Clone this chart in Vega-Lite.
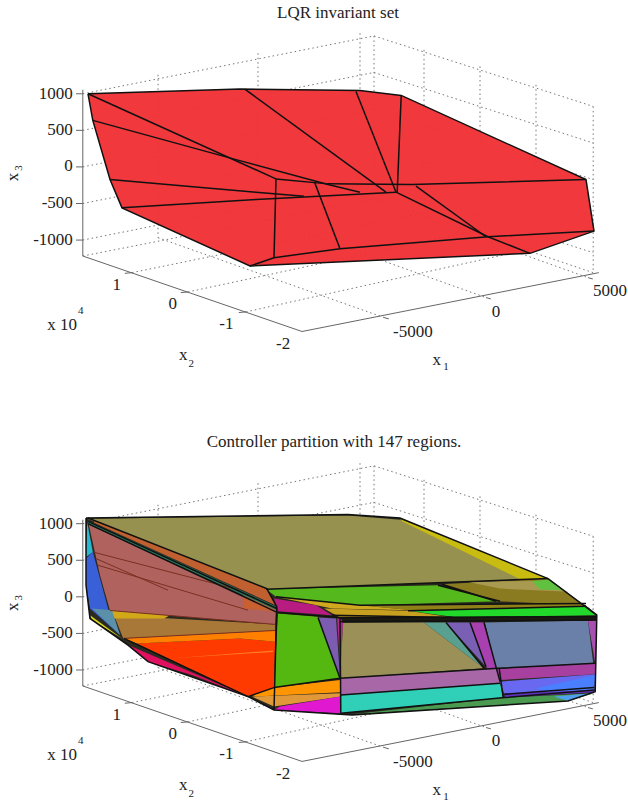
{"$schema":"https://vega.github.io/schema/vega-lite/v6.json","width":628,"height":803,"autosize":{"type":"fit","contains":"padding"},"padding":0,"background":"white",
"datasets":{
"grid":[
{"s":"a1","u":207,"v":282},{"s":"a1","u":935,"v":108},{"s":"a1","u":1483,"v":320},
{"s":"a2","u":207,"v":392},{"s":"a2","u":935,"v":218},{"s":"a2","u":1483,"v":430},
{"s":"a3","u":207,"v":502},{"s":"a3","u":935,"v":328},{"s":"a3","u":1483,"v":540},
{"s":"a4","u":207,"v":612},{"s":"a4","u":935,"v":438},{"s":"a4","u":1483,"v":650},
{"s":"a5","u":207,"v":722},{"s":"a5","u":935,"v":548},{"s":"a5","u":1483,"v":760},
{"s":"a6","u":395,"v":225},{"s":"a6","u":395,"v":715},
{"s":"a7","u":645,"v":160},{"s":"a7","u":645,"v":650},
{"s":"a8","u":900,"v":100},{"s":"a8","u":900,"v":590},
{"s":"a9","u":935,"v":108},{"s":"a9","u":935,"v":598},
{"s":"a10","u":1060,"v":150},{"s":"a10","u":1060,"v":640},
{"s":"a11","u":1200,"v":200},{"s":"a11","u":1200,"v":690},
{"s":"a12","u":1340,"v":255},{"s":"a12","u":1340,"v":745},
{"s":"a13","u":1483,"v":320},{"s":"a13","u":1483,"v":820},
{"s":"a14","u":330,"v":820},{"s":"a14","u":1060,"v":640},
{"s":"a15","u":470,"v":878},{"s":"a15","u":1200,"v":690},
{"s":"a16","u":615,"v":938},{"s":"a16","u":1340,"v":745},
{"s":"a17","u":395,"v":715},{"s":"a17","u":960,"v":955},
{"s":"a18","u":645,"v":650},{"s":"a18","u":1215,"v":895},
{"s":"a19","u":900,"v":590},{"s":"a19","u":1470,"v":835},
{"s":"a20","u":207,"v":770},{"s":"a20","u":935,"v":598},{"s":"a20","u":1483,"v":820},
{"s":"b1","u":207,"v":1575},{"s":"b1","u":935,"v":1401},{"s":"b1","u":1483,"v":1613},
{"s":"b2","u":207,"v":1685},{"s":"b2","u":935,"v":1511},{"s":"b2","u":1483,"v":1723},
{"s":"b3","u":207,"v":1795},{"s":"b3","u":935,"v":1621},{"s":"b3","u":1483,"v":1833},
{"s":"b4","u":207,"v":1905},{"s":"b4","u":935,"v":1731},{"s":"b4","u":1483,"v":1943},
{"s":"b5","u":207,"v":2015},{"s":"b5","u":935,"v":1841},{"s":"b5","u":1483,"v":2053},
{"s":"b6","u":395,"v":1518},{"s":"b6","u":395,"v":2008},
{"s":"b7","u":645,"v":1453},{"s":"b7","u":645,"v":1943},
{"s":"b8","u":900,"v":1393},{"s":"b8","u":900,"v":1883},
{"s":"b9","u":935,"v":1401},{"s":"b9","u":935,"v":1891},
{"s":"b10","u":1060,"v":1443},{"s":"b10","u":1060,"v":1933},
{"s":"b11","u":1200,"v":1493},{"s":"b11","u":1200,"v":1983},
{"s":"b12","u":1340,"v":1548},{"s":"b12","u":1340,"v":2038},
{"s":"b13","u":1483,"v":1613},{"s":"b13","u":1483,"v":2113},
{"s":"b14","u":330,"v":2113},{"s":"b14","u":1060,"v":1933},
{"s":"b15","u":470,"v":2171},{"s":"b15","u":1200,"v":1983},
{"s":"b16","u":615,"v":2231},{"s":"b16","u":1340,"v":2038},
{"s":"b17","u":395,"v":2008},{"s":"b17","u":960,"v":2248},
{"s":"b18","u":645,"v":1943},{"s":"b18","u":1215,"v":2188},
{"s":"b19","u":900,"v":1883},{"s":"b19","u":1470,"v":2128},
{"s":"b20","u":207,"v":2063},{"s":"b20","u":935,"v":1891},{"s":"b20","u":1483,"v":2113}
],
"axes":[
{"s":"a","u":207,"v":270},{"s":"a","u":207,"v":770},{"s":"a","u":755,"v":997},{"s":"a","u":1497,"v":820},
{"s":"t1","u":190,"v":282},{"s":"t1","u":207,"v":282},{"s":"t2","u":190,"v":392},{"s":"t2","u":207,"v":392},
{"s":"t3","u":190,"v":502},{"s":"t3","u":207,"v":502},{"s":"t4","u":190,"v":612},{"s":"t4","u":207,"v":612},
{"s":"t5","u":190,"v":722},{"s":"t5","u":207,"v":722},
{"s":"t6","u":312,"v":822},{"s":"t6","u":330,"v":820},{"s":"t7","u":452,"v":880},{"s":"t7","u":470,"v":878},
{"s":"t8","u":597,"v":940},{"s":"t8","u":615,"v":938},
{"s":"t9","u":960,"v":955},{"s":"t9","u":972,"v":959},{"s":"t10","u":1215,"v":895},{"s":"t10","u":1227,"v":899},
{"s":"t11","u":1470,"v":835},{"s":"t11","u":1482,"v":839},
{"s":"b","u":207,"v":1563},{"s":"b","u":207,"v":2063},{"s":"b","u":755,"v":2290},{"s":"b","u":1497,"v":2113},
{"s":"c1","u":190,"v":1575},{"s":"c1","u":207,"v":1575},{"s":"c2","u":190,"v":1685},{"s":"c2","u":207,"v":1685},
{"s":"c3","u":190,"v":1795},{"s":"c3","u":207,"v":1795},{"s":"c4","u":190,"v":1905},{"s":"c4","u":207,"v":1905},
{"s":"c5","u":190,"v":2015},{"s":"c5","u":207,"v":2015},
{"s":"c6","u":312,"v":2115},{"s":"c6","u":330,"v":2113},{"s":"c7","u":452,"v":2173},{"s":"c7","u":470,"v":2171},
{"s":"c8","u":597,"v":2233},{"s":"c8","u":615,"v":2231},
{"s":"c9","u":960,"v":2248},{"s":"c9","u":972,"v":2252},{"s":"c10","u":1215,"v":2188},{"s":"c10","u":1227,"v":2192},
{"s":"c11","u":1470,"v":2128},{"s":"c11","u":1482,"v":2132}
],
"invariant":[
{"r":"lqr","u":220,"v":282},{"r":"lqr","u":600,"v":268},{"r":"lqr","u":900,"v":272},{"r":"lqr","u":1003,"v":287},{"r":"lqr","u":1465,"v":540},{"r":"lqr","u":1485,"v":695},{"r":"lqr","u":1325,"v":762},{"r":"lqr","u":625,"v":800},{"r":"lqr","u":305,"v":625},{"r":"lqr","u":275,"v":540},{"r":"lqr","u":232,"v":362}
],
"regions":[
{"r":"base","u":215,"v":1558},{"r":"base","u":870,"v":1547},{"r":"base","u":1000,"v":1558},{"r":"base","u":1370,"v":1740},{"r":"base","u":1492,"v":1850},{"r":"base","u":1488,"v":2080},{"r":"base","u":1420,"v":2108},{"r":"base","u":880,"v":2150},{"r":"base","u":850,"v":2148},{"r":"base","u":685,"v":2135},{"r":"base","u":620,"v":2095},{"r":"base","u":370,"v":1990},{"r":"base","u":320,"v":1940},{"r":"base","u":225,"v":1860},{"r":"base","u":215,"v":1760},
{"r":"top","u":218,"v":1560},{"r":"top","u":870,"v":1550},{"r":"top","u":1000,"v":1563},{"r":"top","u":1370,"v":1740},{"r":"top","u":670,"v":1772},
{"r":"yel","u":1000,"v":1560},{"r":"yel","u":1370,"v":1740},{"r":"yel","u":1300,"v":1742},{"r":"yel","u":1005,"v":1568},
{"r":"grn","u":665,"v":1772},{"r":"grn","u":1095,"v":1760},{"r":"grn","u":1250,"v":1808},{"r":"grn","u":900,"v":1820},{"r":"grn","u":690,"v":1795},
{"r":"olv2","u":1105,"v":1757},{"r":"olv2","u":1370,"v":1740},{"r":"olv2","u":1460,"v":1820},{"r":"olv2","u":1240,"v":1808},
{"r":"lite","u":1170,"v":1750},{"r":"lite","u":1340,"v":1747},{"r":"lite","u":1420,"v":1780},{"r":"lite","u":1250,"v":1770},
{"r":"grn2","u":1330,"v":1747},{"r":"grn2","u":1375,"v":1743},{"r":"grn2","u":1410,"v":1775},{"r":"grn2","u":1350,"v":1773},
{"r":"olv3","u":900,"v":1820},{"r":"olv3","u":1455,"v":1815},{"r":"olv3","u":1465,"v":1825},{"r":"olv3","u":1030,"v":1835},
{"r":"brt","u":1020,"v":1837},{"r":"brt","u":1465,"v":1823},{"r":"brt","u":1492,"v":1850},{"r":"brt","u":1140,"v":1856},
{"r":"wedge","u":690,"v":1795},{"r":"wedge","u":900,"v":1820},{"r":"wedge","u":1030,"v":1835},{"r":"wedge","u":830,"v":1830},{"r":"wedge","u":750,"v":1810},
{"r":"mag","u":685,"v":1800},{"r":"mag","u":790,"v":1820},{"r":"mag","u":830,"v":1850},{"r":"mag","u":695,"v":1838},
{"r":"yor","u":810,"v":1830},{"r":"yor","u":1020,"v":1837},{"r":"yor","u":1130,"v":1857},{"r":"yor","u":850,"v":1857},
{"r":"fgreen","u":695,"v":1845},{"r":"fgreen","u":795,"v":1855},{"r":"fgreen","u":850,"v":2040},{"r":"fgreen","u":685,"v":2068},
{"r":"fpb","u":795,"v":1857},{"r":"fpb","u":840,"v":1860},{"r":"fpb","u":850,"v":2040},
{"r":"fmag","u":843,"v":1860},{"r":"fmag","u":858,"v":1860},{"r":"fmag","u":852,"v":2040},
{"r":"folv","u":858,"v":1872},{"r":"folv","u":1060,"v":1872},{"r":"folv","u":1210,"v":2010},{"r":"folv","u":850,"v":2040},
{"r":"ftea","u":1060,"v":1872},{"r":"ftea","u":1115,"v":1872},{"r":"ftea","u":1210,"v":2010},
{"r":"fpb2","u":1115,"v":1872},{"r":"fpb2","u":1175,"v":1872},{"r":"fpb2","u":1215,"v":2005},
{"r":"fmag2","u":1175,"v":1872},{"r":"fmag2","u":1210,"v":1872},{"r":"fmag2","u":1248,"v":2045},{"r":"fmag2","u":1215,"v":2005},
{"r":"fbg","u":1212,"v":1872},{"r":"fbg","u":1470,"v":1867},{"r":"fbg","u":1483,"v":1995},{"r":"fbg","u":1240,"v":2010},
{"r":"fstrip","u":1470,"v":1867},{"r":"fstrip","u":1492,"v":1860},{"r":"fstrip","u":1488,"v":1995},
{"r":"band","u":850,"v":2040},{"r":"band","u":1245,"v":2010},{"r":"band","u":1250,"v":2055},{"r":"band","u":852,"v":2090},
{"r":"bandr","u":1240,"v":2012},{"r":"bandr","u":1488,"v":1995},{"r":"bandr","u":1488,"v":2028},{"r":"bandr","u":1250,"v":2045},
{"r":"blue","u":1250,"v":2050},{"r":"blue","u":1488,"v":2028},{"r":"blue","u":1485,"v":2080},{"r":"blue","u":1260,"v":2085},
{"r":"blue2","u":1340,"v":2070},{"r":"blue2","u":1488,"v":2030},{"r":"blue2","u":1485,"v":2080},{"r":"blue2","u":1380,"v":2085},
{"r":"teal","u":852,"v":2090},{"r":"teal","u":1250,"v":2055},{"r":"teal","u":1258,"v":2098},{"r":"teal","u":852,"v":2145},
{"r":"pstrip","u":1262,"v":2085},{"r":"pstrip","u":1485,"v":2075},{"r":"pstrip","u":1485,"v":2082},{"r":"pstrip","u":1262,"v":2098},
{"r":"dgreen","u":880,"v":2148},{"r":"dgreen","u":1262,"v":2098},{"r":"dgreen","u":1485,"v":2085},{"r":"dgreen","u":1420,"v":2108},
{"r":"lblue","u":1385,"v":2095},{"r":"lblue","u":1480,"v":2085},{"r":"lblue","u":1420,"v":2108},
{"r":"orange","u":630,"v":2092},{"r":"orange","u":685,"v":2068},{"r":"orange","u":850,"v":2045},{"r":"orange","u":850,"v":2082},{"r":"orange","u":640,"v":2095},
{"r":"lor","u":630,"v":2095},{"r":"lor","u":850,"v":2085},{"r":"lor","u":852,"v":2095},{"r":"lor","u":685,"v":2125},
{"r":"magb","u":700,"v":2125},{"r":"magb","u":850,"v":2095},{"r":"magb","u":852,"v":2145},{"r":"magb","u":685,"v":2135},
{"r":"red","u":342,"v":1935},{"r":"red","u":600,"v":1920},{"r":"red","u":688,"v":1930},{"r":"red","u":685,"v":2068},{"r":"red","u":620,"v":2095},
{"r":"orng","u":308,"v":1920},{"r":"orng","u":688,"v":1896},{"r":"orng","u":688,"v":1930},{"r":"orng","u":600,"v":1920},{"r":"orng","u":342,"v":1935},
{"r":"stripe","u":432,"v":1980},{"r":"stripe","u":683,"v":1956},{"r":"stripe","u":683,"v":1961},
{"r":"brown","u":285,"v":1850},{"r":"brown","u":688,"v":1878},{"r":"brown","u":688,"v":1896},{"r":"brown","u":308,"v":1920},
{"r":"yell","u":275,"v":1836},{"r":"yell","u":425,"v":1850},{"r":"yell","u":410,"v":1860},{"r":"yell","u":285,"v":1860},
{"r":"salmon","u":222,"v":1578},{"r":"salmon","u":690,"v":1838},{"r":"salmon","u":688,"v":1878},{"r":"salmon","u":275,"v":1836},{"r":"salmon","u":250,"v":1730},
{"r":"orb","u":608,"v":1785},{"r":"orb","u":690,"v":1830},{"r":"orb","u":690,"v":1840},{"r":"orb","u":608,"v":1830},
{"r":"orb2","u":235,"v":1565},{"r":"orb2","u":667,"v":1772},{"r":"orb2","u":692,"v":1822},{"r":"orb2","u":235,"v":1572},
{"r":"tstrip","u":220,"v":1566},{"r":"tstrip","u":692,"v":1825},{"r":"tstrip","u":692,"v":1836},{"r":"tstrip","u":220,"v":1575},
{"r":"blueL","u":215,"v":1680},{"r":"blueL","u":232,"v":1660},{"r":"blueL","u":270,"v":1830},{"r":"blueL","u":300,"v":1910},{"r":"blueL","u":225,"v":1830},{"r":"blueL","u":215,"v":1760},
{"r":"cyan","u":218,"v":1570},{"r":"cyan","u":232,"v":1660},{"r":"cyan","u":215,"v":1675},
{"r":"gb","u":230,"v":1830},{"r":"gb","u":280,"v":1835},{"r":"gb","u":300,"v":1910},
{"r":"yl","u":225,"v":1850},{"r":"yl","u":305,"v":1920},{"r":"yl","u":230,"v":1865},
{"r":"crim","u":320,"v":1940},{"r":"crim","u":620,"v":2095},{"r":"crim","u":480,"v":2030},{"r":"crim","u":370,"v":1990},
{"r":"dark","u":850,"v":1856},{"r":"dark","u":1140,"v":1856},{"r":"dark","u":1490,"v":1852},{"r":"dark","u":1490,"v":1866},{"r":"dark","u":858,"v":1872}
],
"edges":[
{"s":"o","u":220,"v":282},{"s":"o","u":600,"v":268},{"s":"o","u":900,"v":272},{"s":"o","u":1003,"v":287},{"s":"o","u":1465,"v":540},{"s":"o","u":1485,"v":695},{"s":"o","u":1325,"v":762},{"s":"o","u":625,"v":800},{"s":"o","u":305,"v":625},{"s":"o","u":275,"v":540},{"s":"o","u":232,"v":362},{"s":"o","u":220,"v":282},
{"s":"e1","u":220,"v":282},{"s":"e1","u":690,"v":538},
{"s":"e2","u":232,"v":362},{"s":"e2","u":590,"v":480},{"s":"e2","u":820,"v":555},{"s":"e2","u":900,"v":578},
{"s":"e3","u":612,"v":268},{"s":"e3","u":965,"v":578},
{"s":"e4","u":890,"v":275},{"s":"e4","u":990,"v":578},
{"s":"e5","u":1003,"v":287},{"s":"e5","u":993,"v":578},
{"s":"e6","u":275,"v":540},{"s":"e6","u":640,"v":578},{"s":"e6","u":760,"v":590},
{"s":"e7","u":305,"v":625},{"s":"e7","u":640,"v":600},{"s":"e7","u":990,"v":578},
{"s":"e8","u":990,"v":578},{"s":"e8","u":1220,"v":712},{"s":"e8","u":1325,"v":762},
{"s":"e9","u":1040,"v":560},{"s":"e9","u":1215,"v":712},
{"s":"e10","u":690,"v":538},{"s":"e10","u":820,"v":553},{"s":"e10","u":1030,"v":555},{"s":"e10","u":1465,"v":540},
{"s":"e11","u":690,"v":538},{"s":"e11","u":685,"v":775},
{"s":"e12","u":787,"v":550},{"s":"e12","u":850,"v":748},
{"s":"e13","u":625,"v":800},{"s":"e13","u":685,"v":775},{"s":"e13","u":850,"v":748},{"s":"e13","u":1220,"v":712},{"s":"e13","u":1485,"v":695},
{"s":"l0","u":215,"v":1558},{"s":"l0","u":870,"v":1547},{"s":"l0","u":1000,"v":1558},{"s":"l0","u":1370,"v":1740},{"s":"l0","u":1492,"v":1850},{"s":"l0","u":1488,"v":2080},{"s":"l0","u":1420,"v":2108},{"s":"l0","u":880,"v":2150},{"s":"l0","u":850,"v":2148},{"s":"l0","u":685,"v":2135},{"s":"l0","u":620,"v":2095},{"s":"l0","u":370,"v":1990},{"s":"l0","u":320,"v":1940},{"s":"l0","u":225,"v":1860},{"s":"l0","u":215,"v":1760},{"s":"l0","u":215,"v":1558},
{"s":"l1","u":220,"v":1558},{"s":"l1","u":667,"v":1770},{"s":"l1","u":692,"v":1825},
{"s":"l2","u":220,"v":1568},{"s":"l2","u":692,"v":1830},
{"s":"l26","u":220,"v":1575},{"s":"l26","u":690,"v":1840},
{"s":"l3","u":665,"v":1772},{"s":"l3","u":1370,"v":1740},
{"s":"l4","u":690,"v":1795},{"s":"l4","u":900,"v":1820},{"s":"l4","u":1465,"v":1815},
{"s":"l5","u":850,"v":1857},{"s":"l5","u":1490,"v":1855},
{"s":"l6","u":850,"v":1870},{"s":"l6","u":1490,"v":1865},
{"s":"l7","u":695,"v":1842},{"s":"l7","u":850,"v":1857},
{"s":"l8","u":692,"v":1825},{"s":"l8","u":685,"v":2135},
{"s":"l9","u":850,"v":1857},{"s":"l9","u":852,"v":2145},
{"s":"l10","u":795,"v":1857},{"s":"l10","u":850,"v":2040},
{"s":"l11","u":685,"v":2068},{"s":"l11","u":850,"v":2040},{"s":"l11","u":1245,"v":2010},{"s":"l11","u":1488,"v":1995},
{"s":"l12","u":620,"v":2095},{"s":"l12","u":685,"v":2068},
{"s":"l13","u":852,"v":2090},{"s":"l13","u":1250,"v":2055},
{"s":"l14","u":852,"v":2145},{"s":"l14","u":1262,"v":2098},{"s":"l14","u":1485,"v":2075},
{"s":"l15","u":1248,"v":2010},{"s":"l15","u":1258,"v":2098},
{"s":"l16","u":1210,"v":1872},{"s":"l16","u":1250,"v":2050},
{"s":"l17","u":1175,"v":1872},{"s":"l17","u":1215,"v":2005},
{"s":"l18","u":1115,"v":1872},{"s":"l18","u":1210,"v":2010},
{"s":"l19","u":1460,"v":1820},{"s":"l19","u":1492,"v":1850},
{"s":"l20","u":1095,"v":1760},{"s":"l20","u":1250,"v":1808},
{"s":"l21","u":1020,"v":1837},{"s":"l21","u":1465,"v":1823},
{"s":"l22","u":1105,"v":1757},{"s":"l22","u":1240,"v":1808},
{"s":"l23","u":310,"v":1920},{"s":"l23","u":620,"v":2095},
{"s":"l24","u":830,"v":1850},{"s":"l24","u":1130,"v":1857},
{"s":"l25","u":1262,"v":2088},{"s":"l25","u":1485,"v":2068}
],
"faint":[
{"s":"f1","u":232,"v":1660},{"s":"f1","u":600,"v":1775},
{"s":"f2","u":245,"v":1700},{"s":"f2","u":620,"v":1835},
{"s":"f3","u":275,"v":1836},{"s":"f3","u":690,"v":1878},
{"s":"f4","u":308,"v":1920},{"s":"f4","u":690,"v":1896},
{"s":"f5","u":240,"v":1680},{"s":"f5","u":420,"v":1775}
],
"labels":[
{"t":"LQR invariant set","u":845,"v":38},{"t":"Controller partition with 147 regions.","u":835,"v":1330},
{"t":"1","u":292,"v":858},{"t":"0","u":432,"v":915},{"t":"-1","u":566,"v":975},{"t":"-2","u":708,"v":1035},
{"t":"-5000","u":1032,"v":998},{"t":"0","u":1240,"v":937},{"t":"5000","u":1525,"v":875},{"t":"x 10","u":155,"v":978},{"t":"x","u":1092,"v":1082},{"t":"x","u":458,"v":1068},
{"t":"1","u":292,"v":2151},{"t":"0","u":432,"v":2208},{"t":"-1","u":566,"v":2268},{"t":"-2","u":708,"v":2328},
{"t":"-5000","u":1032,"v":2291},{"t":"0","u":1240,"v":2230},{"t":"5000","u":1525,"v":2168},{"t":"x 10","u":155,"v":2271},{"t":"x","u":1092,"v":2375},{"t":"x","u":458,"v":2361}
],
"zlabels":[
{"t":"1000","u":182,"v":282},{"t":"500","u":182,"v":390},{"t":"0","u":182,"v":500},{"t":"-500","u":182,"v":610},{"t":"-1000","u":182,"v":722},
{"t":"1000","u":182,"v":1575},{"t":"500","u":182,"v":1685},{"t":"0","u":182,"v":1795},{"t":"-500","u":182,"v":1905},{"t":"-1000","u":182,"v":2015}
],
"subs":[
{"t":"4","u":202,"v":935},{"t":"1","u":1115,"v":1105},{"t":"2","u":478,"v":1095},
{"t":"4","u":202,"v":2228},{"t":"1","u":1115,"v":2398},{"t":"2","u":478,"v":2388}
],
"rotMain":[{"t":"x","u":32,"v":532},{"t":"x","u":32,"v":1825}],
"rotSub":[{"t":"3","u":48,"v":505},{"t":"3","u":48,"v":1798}]
},
"encoding":{
"x":{"field":"u","type":"quantitative","scale":{"domain":[0,1570],"nice":false,"zero":false},"axis":null},
"y":{"field":"v","type":"quantitative","scale":{"domain":[2409,0],"nice":false,"zero":false},"axis":null}
},
"layer":[
{"data":{"name":"grid"},"transform":[{"window":[{"op":"row_number","as":"i"}]}],"mark":{"type":"line","stroke":"#777777","strokeWidth":1,"strokeDash":[1.5,3]},"encoding":{"detail":{"field":"s"},"order":{"field":"i","type":"quantitative"}}},
{"data":{"name":"axes"},"transform":[{"window":[{"op":"row_number","as":"i"}]}],"mark":{"type":"line","stroke":"#666666","strokeWidth":1},"encoding":{"detail":{"field":"s"},"order":{"field":"i","type":"quantitative"}}},
{"data":{"name":"invariant"},"transform":[{"window":[{"op":"row_number","as":"i"}]}],"mark":{"type":"line","fill":"#f03034","fillOpacity":0.96,"stroke":null},"encoding":{"detail":{"field":"r"},"order":{"field":"i","type":"quantitative"}}},
{"data":{"name":"regions"},"transform":[{"window":[{"op":"row_number","as":"i"}]}],"mark":{"type":"line","strokeWidth":0},"encoding":{"fill":{"field":"r","type":"nominal","legend":null,"sort":null,"scale":{
"domain":["base","top","yel","grn","olv2","lite","grn2","olv3","brt","wedge","mag","yor","fgreen","fpb","fmag","folv","ftea","fpb2","fmag2","fbg","fstrip","band","bandr","blue","blue2","teal","pstrip","dgreen","lblue","orange","lor","magb","red","orng","stripe","brown","yell","salmon","orb","orb2","tstrip","blueL","cyan","gb","yl","crim","dark"],
"range":["#2a2a20","#97914f","#c8bc10","#55b81c","#8a7a20","#a89a50","#60c040","#8f8018","#22d82a","#d0a820","#b81c80","#c8a020","#55b810","#7c5cb0","#b02c8c","#9a9058","#5aa090","#7a60b4","#a840b0","#6a80a8","#a850b0","#a868a8","#a840a0","#6868f0","#4a80ff","#30d0b8","#6030c0","#4a9a50","#50a0f0","#ff9500","#e09838","#e018d0","#ff3a00","#ff8000","#ff7a20","#a87838","#d0a818","#b0625f","#c86030","#c06030","#2a7a60","#3a60d8","#28b8d0","#5a90a8","#d8d820","#e01060","#1a1a10"]}},"order":{"field":"i","type":"quantitative"}}},
{"data":{"name":"faint"},"transform":[{"window":[{"op":"row_number","as":"i"}]}],"mark":{"type":"line","stroke":"#7a3020","strokeWidth":1},"encoding":{"detail":{"field":"s"},"order":{"field":"i","type":"quantitative"}}},
{"data":{"name":"edges"},"transform":[{"window":[{"op":"row_number","as":"i"}]}],"mark":{"type":"line","stroke":"#111111","strokeWidth":1.5},"encoding":{"detail":{"field":"s"},"order":{"field":"i","type":"quantitative"}}},
{"data":{"name":"labels"},"mark":{"type":"text","font":"Liberation Serif","fontSize":17,"align":"center","baseline":"middle","color":"#222222"},"encoding":{"text":{"field":"t"}}},
{"data":{"name":"zlabels"},"mark":{"type":"text","font":"Liberation Serif","fontSize":17,"align":"right","baseline":"middle","color":"#222222"},"encoding":{"text":{"field":"t"}}},
{"data":{"name":"subs"},"mark":{"type":"text","font":"Liberation Serif","fontSize":11,"align":"center","baseline":"middle","color":"#222222"},"encoding":{"text":{"field":"t"}}},
{"data":{"name":"rotMain"},"mark":{"type":"text","font":"Liberation Serif","fontSize":17,"angle":270,"align":"center","baseline":"middle","color":"#222222"},"encoding":{"text":{"field":"t"}}},
{"data":{"name":"rotSub"},"mark":{"type":"text","font":"Liberation Serif","fontSize":11,"angle":270,"align":"center","baseline":"middle","color":"#222222"},"encoding":{"text":{"field":"t"}}}
],
"config":{"view":{"stroke":null}}
}
